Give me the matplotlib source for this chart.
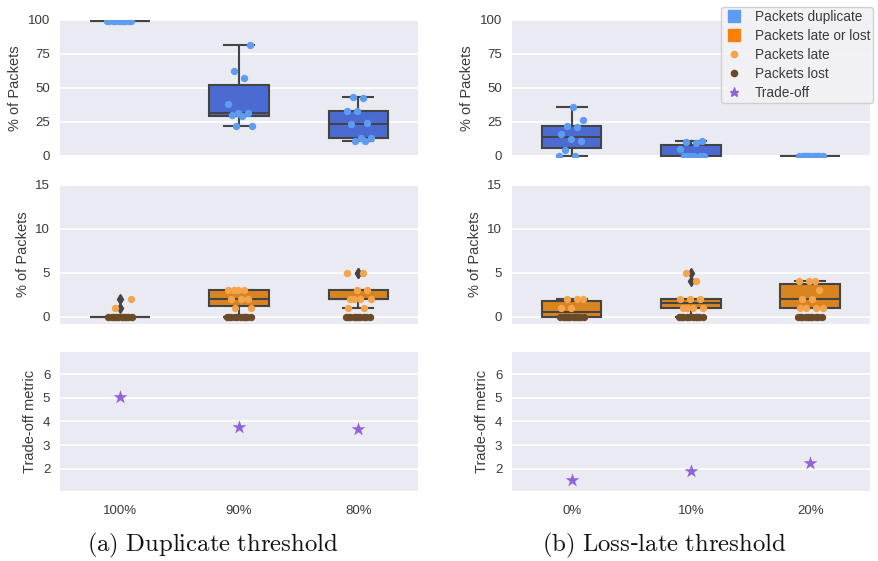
import numpy as np
import matplotlib
matplotlib.use("Agg")
import matplotlib.pyplot as plt
from matplotlib.lines import Line2D

plt.rcParams["font.family"] = ["Liberation Sans", "DejaVu Sans"]

# ---- data ----
dup_labels = ["100%", "90%", "80%"]
dup_packets = [
    [99, 99, 99, 99, 99, 99, 99, 99, 99, 99],
    [22, 22, 29, 30, 31, 31, 38, 57, 62, 81],
    [11, 11, 13, 13, 23, 24, 33, 33, 42, 43],
]
dup_late = [
    [0, 0, 0, 0, 0, 0, 0, 0, 1, 2],
    [0, 1, 1, 2, 2, 2, 3, 3, 3, 3],
    [1, 1, 2, 2, 2, 2, 3, 3, 5, 5],
]
dup_lost = [
    [0, 0, 0, 0, 0, 0, 0, 0, 0, 0],
    [0, 0, 0, 0, 0, 0, 0, 0, 0, 0],
    [0, 0, 0, 0, 0, 0, 0, 0, 0, 0],
]
dup_tradeoff = [5.03, 3.75, 3.68]

ll_labels = ["0%", "10%", "20%"]
ll_packets = [
    [0, 0, 4, 11, 12, 16, 21, 22, 26, 36],
    [0, 0, 0, 0, 0, 0, 5, 9, 10, 11],
    [0, 0, 0, 0, 0, 0, 0, 0, 0, 0],
]
ll_late = [
    [0, 0, 0, 0, 0, 1, 1, 2, 2, 2],
    [0, 1, 1, 1, 1, 2, 2, 2, 4, 5],
    [1, 1, 1, 1, 2, 2, 3, 4, 4, 4],
]
ll_lost = [
    [0, 0, 0, 0, 0, 0, 0, 0, 0, 0],
    [0, 0, 0, 0, 0, 0, 0, 0, 0, 0],
    [0, 0, 0, 0, 0, 0, 0, 0, 0, 0],
]
ll_tradeoff = [1.52, 1.92, 2.24]

# ---- style ----
BG = "#EAEAF2"
EDGE = "#444444"
TXT = "#3a3a3a"
C_DUP_BOX = "#4b6bd3"
C_DUP_PT = "#5d9cf2"
C_LL_BOX = "#d9841f"
C_LL_SQ = "#ff8000"
C_LATE = "#f6a44c"
C_LOST = "#6b4a28"
C_TRADE = "#9063db"

W, H = 879, 561
fig = plt.figure(figsize=(W / 100, H / 100), dpi=100)


def jitter(n, k):
    return ((np.arange(n) * 0.618 + k * 0.37) % 1 - 0.5) * 0.22


def style_ax(ax):
    ax.set_facecolor(BG)
    for s in ax.spines.values():
        s.set_visible(False)
    ax.grid(axis="y", color="white", lw=1.3)
    ax.set_axisbelow(True)
    ax.tick_params(length=0, labelsize=9.5, labelcolor=TXT, pad=7)
    ax.set_xlim(-0.5, 2.5)


def boxes(ax, data, face):
    ax.boxplot(data, positions=range(len(data)), widths=0.5, patch_artist=True,
               boxprops=dict(facecolor=face, edgecolor=EDGE, lw=1.5),
               medianprops=dict(color=EDGE, lw=1.5),
               whiskerprops=dict(color=EDGE, lw=1.5),
               capprops=dict(color=EDGE, lw=1.5),
               flierprops=dict(marker="d", mfc=EDGE, mec=EDGE, ms=5),
               zorder=2)


def strip(ax, data, color, k):
    for i, vals in enumerate(data):
        x = i + jitter(len(vals), i + k)
        ax.scatter(x, vals, s=28, color=color, zorder=3, linewidths=0)


def column(left, packets, late, lost, trade, labels, caption, cx):
    aw = 358 / W
    rows = [(19.5, 157), (185, 324), (351.5, 490.7)]
    axs = [fig.add_axes([left / W, 1 - b / H, aw, (b - t) / H]) for t, b in rows]
    for ax in axs:
        style_ax(ax)

    # duplicates
    ax = axs[0]
    boxes(ax, packets, C_DUP_BOX)
    strip(ax, packets, C_DUP_PT, 0)
    ax.set_ylim(-1, 100)
    ax.set_yticks([0, 25, 50, 75, 100])
    ax.set_xticks([])
    ax.set_ylabel("% of Packets", fontsize=10.5, color=TXT)

    # late or lost
    ax = axs[1]
    late_or_lost = [list(np.add(a, b)) for a, b in zip(late, lost)]
    boxes(ax, late_or_lost, C_LL_BOX)
    strip(ax, late, C_LATE, 1)
    strip(ax, lost, C_LOST, 2)
    ax.set_ylim(-0.85, 15)
    ax.set_yticks([0, 5, 10, 15])
    ax.set_xticks([])
    ax.set_ylabel("% of Packets", fontsize=10.5, color=TXT)

    # trade-off
    ax = axs[2]
    ax.scatter(range(len(trade)), trade, marker="*", s=110, color=C_TRADE,
               linewidths=0, zorder=3)
    ax.set_ylim(1.08, 6.95)
    ax.set_yticks([2, 3, 4, 5, 6])
    ax.set_xticks(range(len(labels)))
    ax.set_xticklabels(labels)
    ax.tick_params(axis="x", pad=10)
    ax.set_ylabel("Trade-off metric", fontsize=10.5, color=TXT)

    fig.text(cx / W, 1 - 545 / H, caption, ha="center", va="center",
             fontsize=17.8, math_fontfamily="cm", family="DejaVu Serif",
             color="#111111")
    return axs


column(60, dup_packets, dup_late, dup_lost, dup_tradeoff, dup_labels,
       r"$\mathrm{(a)\ Duplicate\ threshold}$", 213)
column(512, ll_packets, ll_late, ll_lost, ll_tradeoff, ll_labels,
       r"$\mathrm{(b)\ Loss}$-$\mathrm{late\ threshold}$", 664)

handles = [
    Line2D([], [], ls="none", marker="s", ms=9, color="#5d9cf5"),
    Line2D([], [], ls="none", marker="s", ms=9, color=C_LL_SQ),
    Line2D([], [], ls="none", marker="o", ms=4.5, color=C_LATE),
    Line2D([], [], ls="none", marker="o", ms=4.5, color=C_LOST),
    Line2D([], [], ls="none", marker="*", ms=6.5, color=C_TRADE),
]
names = ["Packets duplicate", "Packets late or lost", "Packets late",
         "Packets lost", "Trade-off"]
fig.legend(handles, names, loc="upper left", bbox_to_anchor=(714 / W, 1.0),
           fontsize=9.8, labelspacing=0.38, handletextpad=0.7, borderpad=0.2,
           handlelength=1.6, facecolor="#f2f2f6", edgecolor="#cccccc",
           framealpha=0.9, labelcolor=TXT)

fig.savefig("out.png", dpi=100)
